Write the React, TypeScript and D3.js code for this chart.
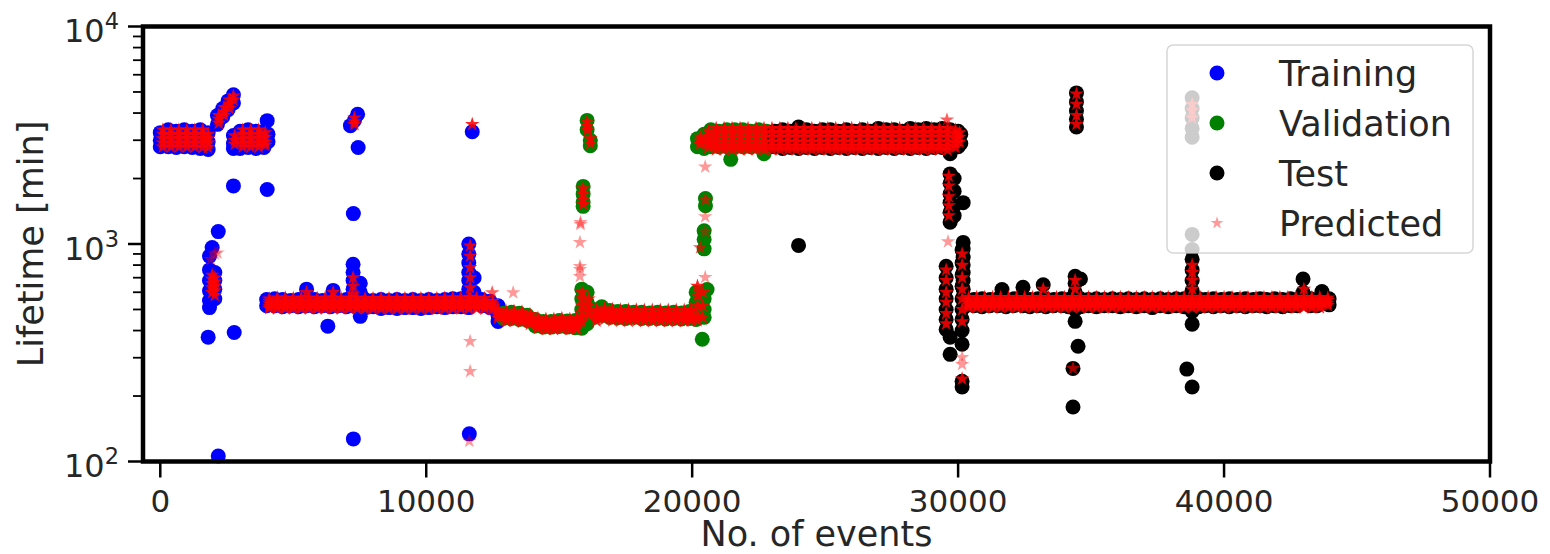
import React from "react";
import * as d3 from "d3";

// ---------- data (event index, then lifetimes in minutes read at that event) ----------
const xTicks = [0, 10000, 20000, 30000, 40000, 50000];
const yTickExps = [2, 3, 4];
const legendLabels = ["Training", "Validation", "Test", "Predicted"];

const training: number[][] = [
  [0, 3250, 3000, 2800], [300, 3350, 3050, 2800], [600, 3300, 3000, 2780], [900, 3350, 3050, 2800],
  [1200, 3300, 3000, 2780], [1500, 3350, 3000, 2750], [1800, 3250, 2950, 2720],
  [2150, 3900, 3550], [2350, 4200, 3850], [2550, 4550, 4150], [2750, 4850, 4450],
  [2750, 3150, 2900, 2750], [3000, 3300, 3000, 2750], [3300, 3350, 3050, 2780], [3600, 3300, 3000, 2750],
  [3900, 3300, 3000, 2780], [4050, 3200, 2950], [4020, 3690], [2750, 1850], [4020, 1780],
  [1800, 373], [1850, 880, 760, 680, 610, 550, 510], [1950, 963], [2050, 740, 680, 620, 560], [2180, 1140],
  [2780, 392], [2180, 106],
  [4000, 555, 520], [4300, 560, 520], [4600, 555, 515], [4900, 550, 520], [5200, 555, 515],
  [5500, 620, 560, 520], [5800, 555, 515], [6100, 550, 520], [6300, 419], [6400, 555, 515], [6500, 612],
  [6700, 550, 520], [7000, 555, 515], [7250, 806, 742, 680, 620, 560, 520], [7520, 660, 600, 465],
  [7700, 555, 510], [8000, 550, 515], [8300, 555, 505], [8600, 550, 510], [8900, 555, 505],
  [9200, 550, 510], [9500, 555, 510], [9800, 550, 505], [10100, 555, 510], [10400, 550, 515],
  [10700, 555, 510], [11000, 560, 515], [11300, 560, 515],
  [11600, 1000, 900, 820, 740, 680, 620, 560, 510], [11800, 700, 600, 540], [12100, 555, 520],
  [12400, 545, 510], [12700, 520, 470, 440],
  [7150, 3500], [7300, 3700], [7420, 3950], [7440, 2776], [7260, 1380], [7260, 127],
  [11730, 3280], [11620, 134],
];

const validation: number[][] = [
  [12900, 480, 455], [13200, 485, 455], [13500, 480, 450], [13800, 470, 445], [14100, 450, 420],
  [14400, 440, 415], [14700, 440, 415], [15000, 445, 418], [15300, 442, 415], [15600, 445, 412],
  [15850, 620, 560, 500, 450, 410], [16050, 600, 540, 480, 430], [16300, 500, 460], [16600, 515, 470],
  [16900, 495, 460], [17200, 490, 458], [17500, 490, 455], [17800, 485, 460], [18100, 485, 455],
  [18400, 482, 455], [18700, 485, 455], [19000, 482, 452], [19300, 485, 455], [19600, 482, 452],
  [19900, 490, 455], [20150, 600, 540, 490, 450], [20450, 560, 500, 460], [20380, 365], [20560, 618],
  [15900, 1840, 1700, 1560, 1490], [16050, 3700, 3350], [16170, 3000, 2830],
  [20500, 1620, 1500], [20450, 1150, 1050, 950],
  [20200, 3050, 2800], [20450, 3200, 2950, 2750], [20700, 3350, 3050, 2800], [21000, 3300, 3050, 2800],
  [21300, 3350, 3050, 2800], [21600, 3350, 3050, 2800], [21900, 3350, 3050, 2800], [22200, 3300, 3050, 2800],
  [22500, 3350, 3050, 2800], [22800, 3300, 3000, 2750], [21450, 2450], [22700, 2600],
];

const test: number[][] = [
  [23100, 3300, 3050, 2800], [23400, 3350, 3050, 2750], [23700, 3300, 3000, 2780], [24000, 3450, 3050, 2750],
  [24300, 3350, 3050, 2780], [24600, 3300, 3000, 2750], [24900, 3350, 3050, 2780], [25200, 3350, 3050, 2750],
  [25500, 3300, 3000, 2780], [25800, 3350, 3050, 2750], [26100, 3300, 3050, 2780], [26400, 3350, 3000, 2750],
  [26700, 3300, 3050, 2780], [27000, 3400, 3050, 2750], [27300, 3350, 3000, 2780], [27600, 3350, 3050, 2750],
  [27900, 3300, 3050, 2780], [28200, 3400, 3050, 2750], [28500, 3350, 3050, 2780], [28800, 3400, 3050, 2750],
  [29100, 3350, 3000, 2780], [29400, 3400, 3050, 2780], [29700, 3350, 3050, 2750, 2600], [30000, 3300, 3050, 2800],
  [30100, 3200, 2900], [24000, 985],
  [29700, 2100, 1900, 1700, 1550, 1400, 1260], [29850, 2000, 1750, 1500, 1350], [30190, 1549],
  [30190, 1017, 950, 870, 800, 740, 680, 620, 570],
  [29550, 790, 700, 620, 560, 500, 450, 405], [29700, 373, 311],
  [30150, 940, 820, 720, 640, 560, 500, 450, 400, 346], [30150, 234, 220],
  [30300, 560, 520], [30600, 555, 520], [30900, 560, 515], [31200, 555, 520], [31500, 560, 520],
  [31650, 618], [31800, 555, 515], [32100, 560, 520], [32440, 632, 560, 520], [32700, 555, 515],
  [33000, 560, 520], [33200, 650], [33300, 560, 515], [33600, 555, 520], [33900, 560, 520],
  [34150, 555, 515], [34400, 710, 660, 600, 550, 500, 441], [34600, 690, 560, 515], [34900, 555, 520],
  [35200, 560, 515], [35500, 555, 520], [35800, 560, 520], [36100, 555, 515], [36400, 560, 520],
  [36700, 555, 515], [37000, 560, 520], [37300, 555, 510], [37600, 560, 520], [37900, 555, 515],
  [38200, 560, 520], [38500, 560, 515], [38800, 850, 760, 680, 610, 550, 490, 428], [39050, 560, 515],
  [39300, 555, 520], [39600, 560, 515], [39900, 555, 520], [40200, 560, 515], [40500, 555, 520],
  [40800, 560, 515], [41100, 555, 520], [41350, 560, 520], [41600, 555, 515], [41900, 560, 520],
  [42200, 555, 515], [42500, 560, 520], [42750, 555, 520], [42970, 690, 600, 545], [43250, 560, 520],
  [43500, 555, 520], [43680, 605, 545], [43950, 560, 525],
  [34450, 4950, 4500, 4100, 3750, 3450], [34510, 339], [34320, 268], [34320, 178],
  [38800, 4700, 4200, 3800, 3400, 3100], [38800, 1107, 944], [38600, 266], [38800, 220],
];

// predicted points, grouped by how many predictions are stacked on each spot
const predictedDense: number[][] = [
  [100, 3350, 3200, 3050, 2920, 2800], [400, 3350, 3200, 3050, 2920, 2800], [700, 3350, 3200, 3050, 2920, 2800],
  [1000, 3350, 3200, 3050, 2920, 2800], [1300, 3350, 3200, 3050, 2920, 2800], [1600, 3350, 3200, 3050, 2920, 2780],
  [1800, 3200, 3050, 2920, 2780],
  [2200, 3900, 3750, 3600], [2400, 4250, 4050, 3900], [2600, 4600, 4400, 4200], [2750, 4800, 4600],
  [2800, 3150, 3000, 2880], [3100, 3350, 3200, 3050, 2920, 2800], [3400, 3350, 3200, 3050, 2920, 2800],
  [3700, 3350, 3200, 3050, 2920, 2800], [3950, 3250, 3100, 2950, 2850],
  [1950, 720, 690, 660, 630, 600], [2050, 700, 670, 640, 610, 580],
  [4100, 560, 546, 532, 518, 506], [4400, 565, 548, 532, 516, 505], [4700, 565, 548, 532, 516, 505],
  [5000, 562, 546, 532, 516, 505], [5300, 565, 548, 532, 516, 505], [5500, 600], [5600, 565, 548, 532, 516, 505],
  [5900, 562, 546, 532, 516, 505], [6200, 565, 548, 532, 516, 505], [6500, 600], [6500, 565, 548, 532, 516, 505],
  [6800, 562, 546, 532, 516, 505], [7100, 565, 548, 532, 516, 505], [7250, 700, 640, 590],
  [7400, 565, 548, 532, 516, 505], [7700, 562, 546, 530, 515, 503], [8000, 562, 546, 530, 515, 503],
  [8300, 562, 546, 530, 515, 503], [8600, 562, 546, 530, 515, 503], [8900, 562, 546, 530, 515, 503],
  [9200, 562, 546, 530, 515, 503], [9500, 562, 546, 530, 515, 503], [9800, 562, 546, 530, 515, 503],
  [10100, 562, 546, 530, 515, 503], [10400, 562, 546, 530, 515, 503], [10700, 565, 548, 532, 516, 505],
  [11000, 565, 548, 532, 516, 505], [11300, 565, 548, 532, 516, 505], [11650, 980, 880, 780, 700, 630, 570],
  [11600, 565, 548, 532, 516, 505], [11900, 565, 548, 532, 516, 505], [12200, 562, 546, 530, 515, 503],
  [12500, 545, 530, 515, 500], [12700, 500, 485, 470, 458],
  [7300, 3800, 3650, 3550], [11730, 3550],
  [13000, 492, 478, 465, 452, 442], [13300, 492, 478, 465, 452, 442], [13600, 488, 474, 460, 448, 438],
  [13900, 475, 462, 450, 438, 428], [14200, 455, 442, 430, 418, 410], [14500, 452, 438, 425, 413, 405],
  [14800, 452, 438, 425, 413, 405], [15100, 455, 440, 427, 415, 407], [15400, 452, 438, 425, 413, 405],
  [15650, 455, 440, 427, 415, 407], [15850, 600, 560, 520, 490, 460, 440], [16100, 560, 520, 490, 470],
  [16400, 498, 482, 468, 455, 443], [16700, 505, 490, 475, 462, 450], [17000, 500, 485, 470, 457, 445],
  [17300, 498, 482, 468, 455, 443], [17600, 498, 482, 468, 455, 443], [17900, 498, 482, 468, 455, 443],
  [18200, 496, 480, 466, 453, 442], [18500, 496, 480, 466, 453, 442], [18800, 496, 480, 466, 453, 442],
  [19100, 496, 480, 466, 453, 442], [19400, 496, 480, 466, 453, 442], [19700, 496, 480, 466, 453, 442],
  [19950, 500, 485, 470, 457, 445], [20200, 640, 580, 520, 470, 445], [20400, 600, 520, 460],
  [15900, 1800, 1700, 1600, 1520], [16050, 3650, 3500, 3350], [16170, 3050, 2900],
  [20300, 3100, 2980, 2880], [20600, 3300, 3150, 3000, 2880, 2780], [20900, 3400, 3250, 3100, 2950, 2820, 2720],
  [21200, 3400, 3250, 3100, 2950, 2820, 2720], [21500, 3400, 3250, 3100, 2950, 2820, 2720],
  [21800, 3400, 3250, 3100, 2950, 2820, 2720], [22100, 3400, 3250, 3100, 2950, 2820, 2720],
  [22400, 3400, 3250, 3100, 2950, 2820, 2720], [22700, 3400, 3250, 3100, 2950, 2820, 2720],
  [23000, 3400, 3250, 3100, 2950, 2820, 2720], [23300, 3400, 3250, 3100, 2950, 2820, 2720],
  [23600, 3400, 3250, 3100, 2950, 2820, 2720], [23900, 3400, 3250, 3100, 2950, 2820, 2720],
  [24200, 3400, 3250, 3100, 2950, 2820, 2720], [24500, 3400, 3250, 3100, 2950, 2820, 2720],
  [24800, 3400, 3250, 3100, 2950, 2820, 2720], [25100, 3400, 3250, 3100, 2950, 2820, 2720],
  [25400, 3400, 3250, 3100, 2950, 2820, 2720], [25700, 3400, 3250, 3100, 2950, 2820, 2720],
  [26000, 3400, 3250, 3100, 2950, 2820, 2720], [26300, 3400, 3250, 3100, 2950, 2820, 2720],
  [26600, 3400, 3250, 3100, 2950, 2820, 2720], [26900, 3400, 3250, 3100, 2950, 2820, 2720],
  [27200, 3400, 3250, 3100, 2950, 2820, 2720], [27500, 3400, 3250, 3100, 2950, 2820, 2720],
  [27800, 3400, 3250, 3100, 2950, 2820, 2720], [28100, 3400, 3250, 3100, 2950, 2820, 2720],
  [28400, 3400, 3250, 3100, 2950, 2820, 2720], [28700, 3400, 3250, 3100, 2950, 2820, 2720],
  [29000, 3400, 3250, 3100, 2950, 2820, 2720], [29300, 3400, 3250, 3100, 2950, 2820, 2720],
  [29600, 3400, 3250, 3100, 2950, 2820, 2700], [29900, 3350, 3200, 3050, 2900, 2780],
  [30050, 3250, 3100, 2950],
  [29650, 2050, 1850, 1650, 1500, 1350], [29550, 760, 680, 600, 540, 480, 430],
  [30150, 900, 800, 700, 620, 560, 500, 440], [30150, 240],
  [34450, 4900, 4400, 3900, 3550], [34400, 680, 620], [38800, 800, 740, 680, 620],
  [38800, 4400, 4100, 3800], [33200, 620], [43000, 620],
  [30400, 568, 552, 536, 522, 510], [30700, 568, 552, 536, 522, 510], [31000, 568, 552, 536, 522, 510],
  [31300, 568, 552, 536, 522, 510], [31600, 568, 552, 536, 522, 510], [31900, 568, 552, 536, 522, 510],
  [32200, 568, 552, 536, 522, 510], [32500, 568, 552, 536, 522, 510], [32800, 568, 552, 536, 522, 510],
  [33100, 568, 552, 536, 522, 510], [33400, 568, 552, 536, 522, 510], [33700, 568, 552, 536, 522, 510],
  [34000, 568, 552, 536, 522, 510], [34300, 568, 552, 536, 522, 510], [34600, 568, 552, 536, 522, 510],
  [34900, 568, 552, 536, 522, 510], [35200, 568, 552, 536, 522, 510], [35500, 568, 552, 536, 522, 510],
  [35800, 568, 552, 536, 522, 510], [36100, 568, 552, 536, 522, 510], [36400, 568, 552, 536, 522, 510],
  [36700, 568, 552, 536, 522, 510], [37000, 568, 552, 536, 522, 510], [37300, 568, 552, 536, 522, 510],
  [37600, 568, 552, 536, 522, 510], [37900, 568, 552, 536, 522, 510], [38200, 568, 552, 536, 522, 510],
  [38500, 568, 552, 536, 522, 510], [38800, 568, 552, 536, 522, 510], [39100, 568, 552, 536, 522, 510],
  [39400, 568, 552, 536, 522, 510], [39700, 568, 552, 536, 522, 510], [40000, 568, 552, 536, 522, 510],
  [40300, 568, 552, 536, 522, 510], [40600, 568, 552, 536, 522, 510], [40900, 568, 552, 536, 522, 510],
  [41200, 568, 552, 536, 522, 510], [41500, 568, 552, 536, 522, 510], [41800, 568, 552, 536, 522, 510],
  [42100, 568, 552, 536, 522, 510], [42400, 568, 552, 536, 522, 510], [42700, 568, 552, 536, 522, 510],
  [43000, 568, 552, 536, 522, 510], [43300, 568, 552, 536, 522, 510], [43600, 568, 552, 536, 522, 510],
  [43900, 565, 550, 535, 522],
];

const predictedPair: number[][] = [
  [12480, 598], [29580, 3725], [34320, 268], [20500, 1600], [20300, 963],
];

const predictedSingle: number[][] = [
  [1900, 850], [2050, 900], [2150, 910], [11650, 357], [11650, 260], [11620, 124], [13270, 598],
  [15800, 1256, 1230], [15780, 1017, 790, 764, 710], [20490, 2265, 1337, 1140, 702],
  [29620, 1026], [30150, 301, 280],
];

// ---------- layout ----------
const W = 1550;
const H = 554;
const LEFT = 143;
const RIGHT = 1490;
const TOP = 26.5;
const BOTTOM = 461.5;
const FONT = "'DejaVu Sans', sans-serif";

const expand = (cols: number[][]) =>
  cols.flatMap(([e, ...vs]) => vs.map((v) => [e, v] as [number, number]));

const stackOpacity = (n: number) => 1 - Math.pow(1 - 0.4, n);

export default function App() {
  const x = d3.scaleLinear().domain([-650, 50000]).range([LEFT, RIGHT]);
  const y = d3.scaleLog().domain([100, 10000]).range([BOTTOM, TOP]);
  const starPath = d3.symbol().type(d3.symbolStar).size(65)() as string;
  const legendStar = d3.symbol().type(d3.symbolStar).size(50)() as string;

  const minor: number[] = [];
  [100, 1000].forEach((d) => {
    for (let k = 2; k <= 9; k++) minor.push(d * k);
  });

  const series = [
    { pts: expand(training), color: "#0000ff" },
    { pts: expand(validation), color: "#008000" },
    { pts: expand(test), color: "#000000" },
  ];
  const preds = [
    { pts: expand(predictedDense), op: stackOpacity(4) },
    { pts: expand(predictedPair), op: stackOpacity(2) },
    { pts: expand(predictedSingle), op: stackOpacity(1) },
  ];

  const legX = 1167, legY = 45, legW = 306, legH = 208;
  const legendColors = ["#0000ff", "#008000", "#000000"];

  return (
    <svg
      width={W}
      height={H}
      style={{ position: "absolute", left: 0, top: 0, background: "#fff" }}
      fontFamily={FONT}
    >
      <rect x={0} y={0} width={W} height={H} fill="#fff" />
      {series.map((s, i) => (
        <g key={i}>
          {s.pts.map(([e, v], j) => (
            <circle key={j} cx={x(e)} cy={y(v)} r={7.5} fill={s.color} />
          ))}
        </g>
      ))}
      {preds.map((p, i) => (
        <g key={i}>
          {p.pts.map(([e, v], j) => (
            <path
              key={j}
              d={starPath}
              transform={`translate(${x(e)},${y(v)})`}
              fill="#ff0000"
              fillOpacity={p.op}
            />
          ))}
        </g>
      ))}

      {/* spines */}
      <rect
        x={LEFT}
        y={TOP}
        width={RIGHT - LEFT}
        height={BOTTOM - TOP}
        fill="none"
        stroke="#000"
        strokeWidth={4.5}
      />

      {/* y ticks */}
      {yTickExps.map((p) => (
        <g key={p}>
          <line x1={LEFT - 15} x2={LEFT} y1={y(10 ** p)} y2={y(10 ** p)} stroke="#000" strokeWidth={2.5} />
          <text x={119} y={y(10 ** p) + 15.5} textAnchor="end" fontSize={32} fill="#262626">
            10
            <tspan dy={-13} fontSize={22.5}>
              {p}
            </tspan>
          </text>
        </g>
      ))}
      {minor.map((v) => (
        <line key={v} x1={LEFT - 10} x2={LEFT} y1={y(v)} y2={y(v)} stroke="#000" strokeWidth={1.8} />
      ))}

      {/* x ticks */}
      {xTicks.map((t) => (
        <g key={t}>
          <line x1={x(t)} x2={x(t)} y1={BOTTOM} y2={BOTTOM + 16} stroke="#000" strokeWidth={2.5} />
          <text x={x(t)} y={512} textAnchor="middle" fontSize={31} fill="#262626">
            {t}
          </text>
        </g>
      ))}

      {/* axis labels */}
      <text x={(LEFT + RIGHT) / 2} y={546} textAnchor="middle" fontSize={35} fill="#262626">
        No. of events
      </text>
      <text
        transform={`translate(43,${(TOP + BOTTOM) / 2}) rotate(-90)`}
        textAnchor="middle"
        fontSize={35}
        fill="#262626"
      >
        Lifetime [min]
      </text>

      {/* legend */}
      <rect
        x={legX}
        y={legY}
        width={legW}
        height={legH}
        rx={6}
        fill="#fff"
        fillOpacity={0.8}
        stroke="#cccccc"
        strokeOpacity={0.8}
        strokeWidth={1.5}
      />
      {legendLabels.map((lab, i) => {
        const cy = 73 + i * 50;
        return (
          <g key={lab}>
            {i < 3 ? (
              <circle cx={1217} cy={cy} r={7.5} fill={legendColors[i]} />
            ) : (
              <path d={legendStar} transform={`translate(1217,${cy})`} fill="#ff0000" fillOpacity={0.4} />
            )}
            <text x={1279} y={cy + 12.5} fontSize={35} fill="#262626">
              {lab}
            </text>
          </g>
        );
      })}
    </svg>
  );
}
